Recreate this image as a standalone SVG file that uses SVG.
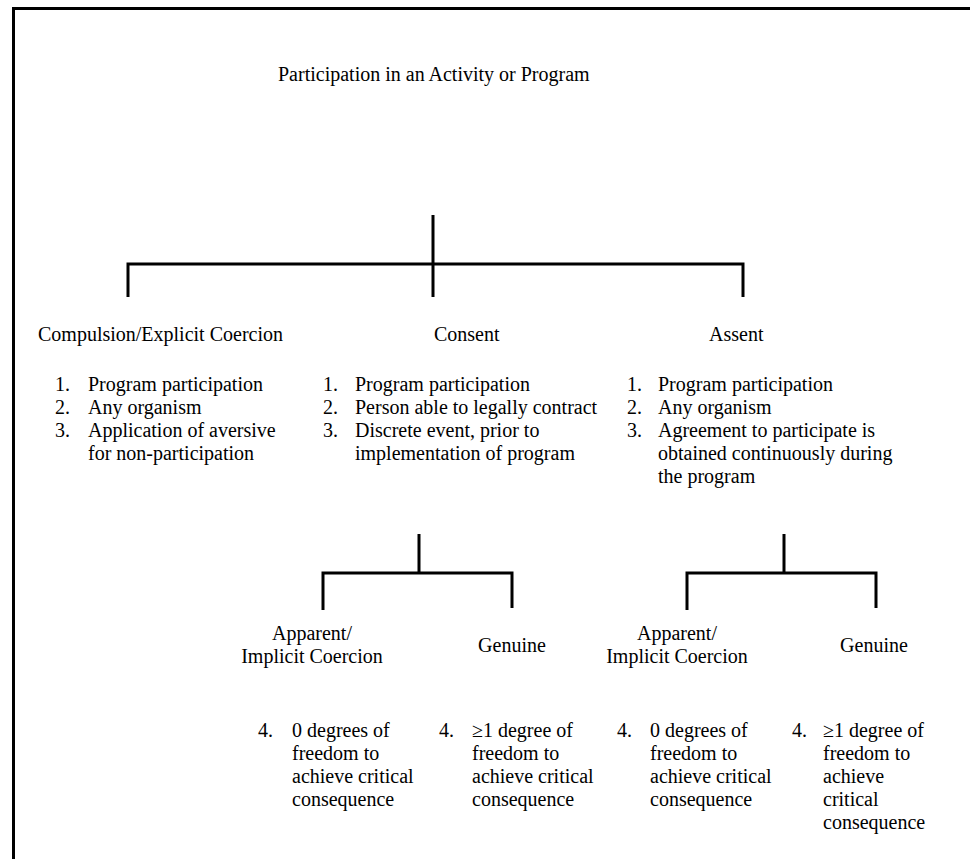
<svg xmlns="http://www.w3.org/2000/svg" width="970" height="859" viewBox="0 0 970 859">
<style>
text{font-family:"Liberation Serif","Times New Roman",serif;font-size:20px;fill:#000}
.ln{stroke:#000;stroke-width:3;fill:none;stroke-linecap:butt}
.mid{text-anchor:middle}
</style>
<rect width="970" height="859" fill="#fff"/>
<g id="frame"><path class="ln" d="M13.5,859 V8.5 H970"/></g>
<g id="connectors">
<path class="ln" d="M433,215 V297 M128,297 V264 H743 V297"/>
<path class="ln" d="M419,534 V573 M323,610 V573 H512 V608"/>
<path class="ln" d="M784,534 V573 M687,610 V573 H876 V608"/>
</g>
<g id="title"><text x="278" y="81">Participation in an Activity or Program</text></g>
<g id="compulsion">
<text x="38" y="341">Compulsion/Explicit Coercion</text>
<text x="55" y="391">1.</text><text x="88" y="391">Program participation</text>
<text x="55" y="414">2.</text><text x="88" y="414">Any organism</text>
<text x="55" y="437">3.</text><text x="88" y="437">Application of aversive</text>
<text x="88" y="460">for non-participation</text>
</g>
<g id="consent">
<text x="434" y="341">Consent</text>
<text x="323" y="391">1.</text><text x="355" y="391">Program participation</text>
<text x="323" y="414">2.</text><text x="355" y="414">Person able to legally contract</text>
<text x="323" y="437">3.</text><text x="355" y="437">Discrete event, prior to</text>
<text x="355" y="460">implementation of program</text>
</g>
<g id="assent">
<text x="709" y="341">Assent</text>
<text x="627" y="391">1.</text><text x="658" y="391">Program participation</text>
<text x="627" y="414">2.</text><text x="658" y="414">Any organism</text>
<text x="627" y="437">3.</text><text x="658" y="437">Agreement to participate is</text>
<text x="658" y="460">obtained continuously during</text>
<text x="658" y="483">the program</text>
</g>
<g id="consent-apparent">
<text class="mid" x="312" y="640">Apparent/</text>
<text class="mid" x="312" y="663">Implicit Coercion</text>
<text x="258" y="737">4.</text><text x="292" y="737">0 degrees of</text>
<text x="292" y="760">freedom to</text>
<text x="292" y="783">achieve critical</text>
<text x="292" y="806">consequence</text>
</g>
<g id="consent-genuine">
<text class="mid" x="512" y="652">Genuine</text>
<text x="439" y="737">4.</text><text x="472" y="737">≥1 degree of</text>
<text x="472" y="760">freedom to</text>
<text x="472" y="783">achieve critical</text>
<text x="472" y="806">consequence</text>
</g>
<g id="assent-apparent">
<text class="mid" x="677" y="640">Apparent/</text>
<text class="mid" x="677" y="663">Implicit Coercion</text>
<text x="617" y="737">4.</text><text x="650" y="737">0 degrees of</text>
<text x="650" y="760">freedom to</text>
<text x="650" y="783">achieve critical</text>
<text x="650" y="806">consequence</text>
</g>
<g id="assent-genuine">
<text class="mid" x="874" y="652">Genuine</text>
<text x="792" y="737">4.</text><text x="823" y="737">≥1 degree of</text>
<text x="823" y="760">freedom to</text>
<text x="823" y="783">achieve</text>
<text x="823" y="806">critical</text>
<text x="823" y="829">consequence</text>
</g>
</svg>
